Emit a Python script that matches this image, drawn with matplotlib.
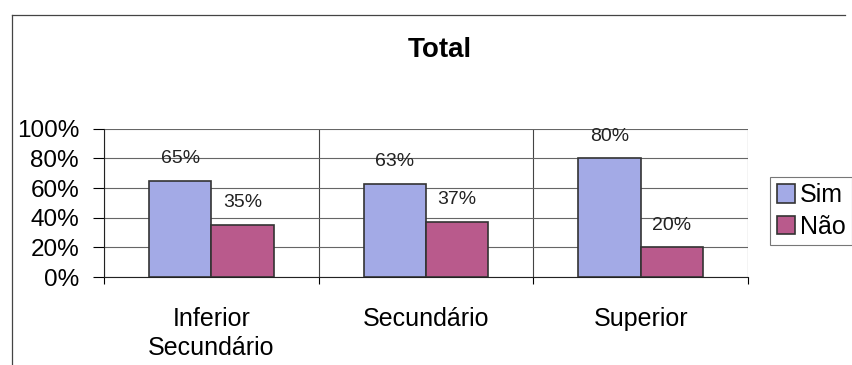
import matplotlib.pyplot as plt
import numpy as np
from matplotlib.lines import Line2D

# Data
categories = ['Inferior\nSecundário', 'Secundário', 'Superior']
sim = [65, 63, 80]
nao = [35, 37, 20]
series_names = ['Sim', 'Não']
yticks = [0, 20, 40, 60, 80, 100]

sim_color = '#a3aae6'
nao_color = '#b95a8c'

plt.rcParams['font.family'] = ['Liberation Sans', 'DejaVu Sans']

fig = plt.figure(figsize=(8.53, 3.65), dpi=100)
ax = fig.add_axes([0.122, 0.241, 0.755, 0.406])

x = np.arange(len(categories))
w = 0.29
b1 = ax.bar(x - w / 2, sim, w, color=sim_color, edgecolor='#333333', linewidth=1.2, zorder=3)
b2 = ax.bar(x + w / 2, nao, w, color=nao_color, edgecolor='#333333', linewidth=1.2, zorder=3)

# value labels above bars
for rects, vals in [(b1, sim), (b2, nao)]:
    for r, v in zip(rects, vals):
        ax.text(r.get_x() + r.get_width() / 2, v + 15, f'{v}%',
                ha='center', va='center', fontsize=14, color='#222222')

ax.set_xlim(-0.5, len(categories) - 0.5)
ax.set_ylim(0, 100)
ax.set_yticks(yticks)
ax.set_yticklabels([f'{t}%' for t in yticks], fontsize=17.5)
ax.yaxis.grid(True, color='#666666', linewidth=0.8, zorder=0)

# category separators
ax.set_xticks(np.arange(len(categories) + 1) - 0.5)
ax.set_xticklabels([])
ax.xaxis.grid(True, color='#444444', linewidth=0.8, zorder=0)
for i, c in enumerate(categories):
    ax.text(i, -20, c, ha='center', va='top', fontsize=18,
            transform=ax.transData, linespacing=1.3)

ax.tick_params(axis='y', direction='out', length=8, width=0.8, pad=10)
ax.tick_params(axis='x', direction='out', length=5, width=0.8)
for s in ['top', 'right']:
    ax.spines[s].set_visible(False)
ax.spines['left'].set_color('#222222')
ax.spines['bottom'].set_color('#222222')

fig.text(0.516, 0.862, 'Total', ha='center', va='center', fontsize=20, fontweight='bold')

leg = fig.legend([b1, b2], series_names, loc='center left', bbox_to_anchor=(0.903, 0.422),
                 fontsize=18, frameon=True, handlelength=0.75, handleheight=0.75,
                 handletextpad=0.2, borderpad=0.25, labelspacing=0.3, fancybox=False,
                 borderaxespad=0)
leg.get_frame().set_edgecolor('#555555')
leg.get_frame().set_linewidth(0.8)

# outer chart border (partially visible in the scan)
fig.add_artist(Line2D([12 / 853, 845 / 853], [1 - 15 / 365] * 2, color='#444444', lw=0.9))
fig.add_artist(Line2D([12 / 853] * 2, [1 - 15 / 365, 0], color='#444444', lw=0.9))

fig.savefig('out.png', dpi=100)
